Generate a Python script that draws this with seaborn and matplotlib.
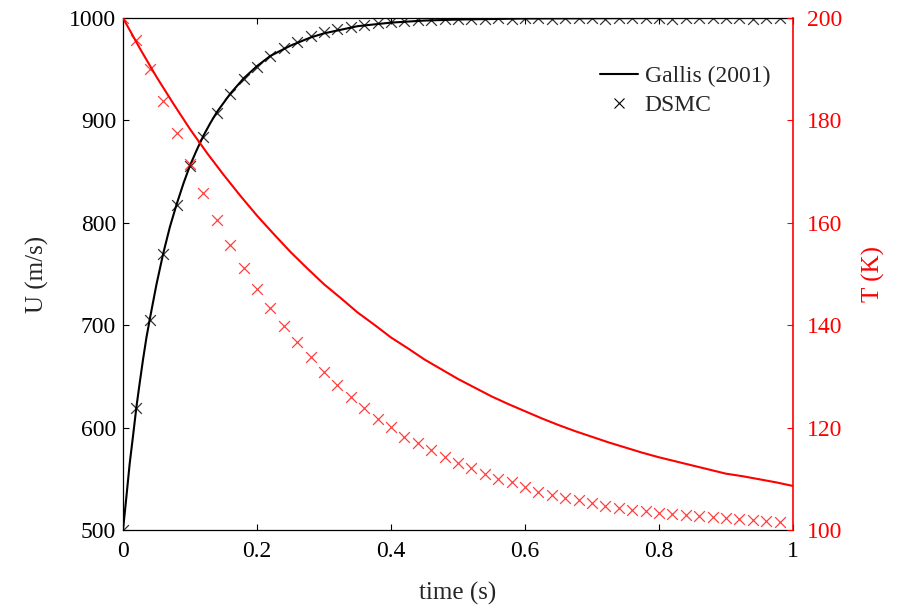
import matplotlib
matplotlib.use("Agg")
import matplotlib.pyplot as plt
import seaborn as sns
import pandas as pd
from matplotlib.lines import Line2D

# Sampling times of the DSMC output (s)
time_dsmc = [0.00, 0.02, 0.04, 0.06, 0.08, 0.10, 0.12, 0.14, 0.16, 0.18,
             0.20, 0.22, 0.24, 0.26, 0.28, 0.30, 0.32, 0.34, 0.36, 0.38,
             0.40, 0.42, 0.44, 0.46, 0.48, 0.50, 0.52, 0.54, 0.56, 0.58,
             0.60, 0.62, 0.64, 0.66, 0.68, 0.70, 0.72, 0.74, 0.76, 0.78,
             0.80, 0.82, 0.84, 0.86, 0.88, 0.90, 0.92, 0.94, 0.96, 0.98]

# DSMC velocity (m/s)
u_dsmc = [500, 619, 705, 770, 817, 855, 884, 907, 926, 940,
          952, 963, 971, 977, 982, 986, 989, 991, 993, 995,
          996, 997, 998, 998.5, 999, 999, 999.5, 999.5, 1000, 999.5,
          1000, 1000, 999.5, 1000, 1000, 1000, 999.5, 1000, 1000, 1000,
          1000, 999.5, 1000, 1000, 1000, 1000, 1000, 999.5, 1000, 1000]

# DSMC temperature (K)
t_dsmc = [200.0, 195.7, 190.0, 183.8, 177.5, 171.5, 165.8, 160.5, 155.7, 151.2,
          147.1, 143.4, 139.8, 136.7, 133.8, 130.9, 128.3, 126.0, 123.8, 121.7,
          120.1, 118.2, 117.0, 115.6, 114.3, 113.1, 112.1, 110.9, 110.0, 109.4,
          108.4, 107.4, 106.8, 106.3, 105.9, 105.3, 104.7, 104.3, 103.9, 103.7,
          103.3, 103.1, 102.9, 102.7, 102.5, 102.3, 102.1, 102.0, 101.8, 101.6]

# Gallis (2001) reference solution: velocity
time_ref_u = [0.000, 0.005, 0.010, 0.015, 0.020, 0.025, 0.030, 0.035, 0.040, 0.050,
              0.060, 0.070, 0.080, 0.090, 0.100, 0.110, 0.120, 0.130, 0.140, 0.160,
              0.180, 0.200, 0.220, 0.250, 0.280, 0.300, 0.350, 0.400, 0.450, 0.500,
              0.600, 0.800, 1.000]
u_ref = [500, 532, 565, 592, 620, 644, 667, 688, 706, 740,
         770, 796, 818, 838, 856, 871, 885, 897, 908, 926,
         941, 953, 963, 973, 981, 985, 992, 995.5, 997.5, 998.5,
         999.5, 1000, 1000]

# Gallis (2001) reference solution: temperature
time_ref_t = [0.000, 0.025, 0.050, 0.075, 0.100, 0.125, 0.150, 0.175, 0.200, 0.225,
              0.250, 0.275, 0.300, 0.325, 0.350, 0.375, 0.400, 0.425, 0.450, 0.475,
              0.500, 0.525, 0.550, 0.575, 0.600, 0.625, 0.650, 0.675, 0.700, 0.725,
              0.750, 0.775, 0.800, 0.825, 0.850, 0.875, 0.900, 0.925, 0.950, 0.975,
              1.000]
t_ref = [200.0, 194.1, 188.5, 183.3, 178.3, 173.7, 169.4, 165.3, 161.4, 157.8,
         154.3, 151.1, 148.0, 145.3, 142.5, 140.1, 137.6, 135.5, 133.3, 131.4,
         129.5, 127.8, 126.1, 124.6, 123.2, 121.8, 120.5, 119.3, 118.2, 117.1,
         116.1, 115.1, 114.2, 113.4, 112.6, 111.8, 111.0, 110.5, 109.9, 109.3,
         108.6]

x_ticks = [0, 0.2, 0.4, 0.6, 0.8, 1]
x_tick_labels = ["0", "0.2", "0.4", "0.6", "0.8", "1"]
u_ticks = [500, 600, 700, 800, 900, 1000]
t_ticks = [100, 120, 140, 160, 180, 200]

sns.set_style("white")
plt.rcParams["font.family"] = ["Liberation Serif", "DejaVu Serif"]

dsmc = pd.DataFrame({"time": time_dsmc, "U": u_dsmc, "T": t_dsmc})
ref_u = pd.DataFrame({"time": time_ref_u, "U": u_ref})
ref_t = pd.DataFrame({"time": time_ref_t, "T": t_ref})

fig = plt.figure(figsize=(9.02, 6.08), dpi=100)
ax = fig.add_axes([123 / 902, 78 / 608, 670 / 902, 512 / 608])
ax2 = ax.twinx()

sns.lineplot(data=ref_u, x="time", y="U", ax=ax, color="black", linewidth=1.5,
             estimator=None, sort=False)
sns.scatterplot(data=dsmc, x="time", y="U", ax=ax, marker="x", color="black",
                s=60, linewidth=0.9, alpha=0.8, zorder=3)

sns.lineplot(data=ref_t, x="time", y="T", ax=ax2, color="red", linewidth=1.5,
             estimator=None, sort=False)
sns.scatterplot(data=dsmc, x="time", y="T", ax=ax2, marker="x", color="red",
                s=60, linewidth=0.9, alpha=0.75, zorder=3)

ax.set_xlim(0, 1)
ax.set_ylim(500, 1000)
ax2.set_ylim(100, 200)

ax.set_xticks(x_ticks)
ax.set_xticklabels(x_tick_labels)
ax.set_yticks(u_ticks)
ax2.set_yticks(t_ticks)

ax.set_xlabel("time (s)", fontsize=18, labelpad=14)
ax.set_ylabel("U (m/s)", fontsize=18, labelpad=14)
ax2.set_ylabel("T (K)", fontsize=18, color="red", labelpad=14)

ax.tick_params(axis="x", direction="in", length=4, width=0.8, top=True,
               bottom=True, labelsize=17, colors="black", pad=8)
ax.tick_params(axis="y", direction="in", length=4, width=0.8, left=True,
               right=False, labelsize=17, colors="black", pad=5)
ax2.tick_params(axis="y", direction="in", length=4, width=0.8, right=True,
                labelsize=17, colors="red", pad=10)

for spine in ["left", "bottom", "top"]:
    ax.spines[spine].set_color("black")
    ax.spines[spine].set_linewidth(0.9)
ax.spines["right"].set_visible(False)
for spine in ["left", "bottom", "top"]:
    ax2.spines[spine].set_visible(False)
ax2.spines["right"].set_color("red")
ax2.spines["right"].set_linewidth(1.2)

handles = [Line2D([], [], color="black", linewidth=1.5),
           Line2D([], [], color="black", linestyle="none", marker="x",
                  markersize=7, markeredgewidth=0.8)]
ax2.legend(handles, ["Gallis (2001)", "DSMC"], loc="upper right",
           bbox_to_anchor=(0.98, 0.925), frameon=False, fontsize=17,
           handlelength=1.6, handletextpad=0.3, labelspacing=0.3,
           borderaxespad=0.0)

fig.savefig("out.png", dpi=100)
